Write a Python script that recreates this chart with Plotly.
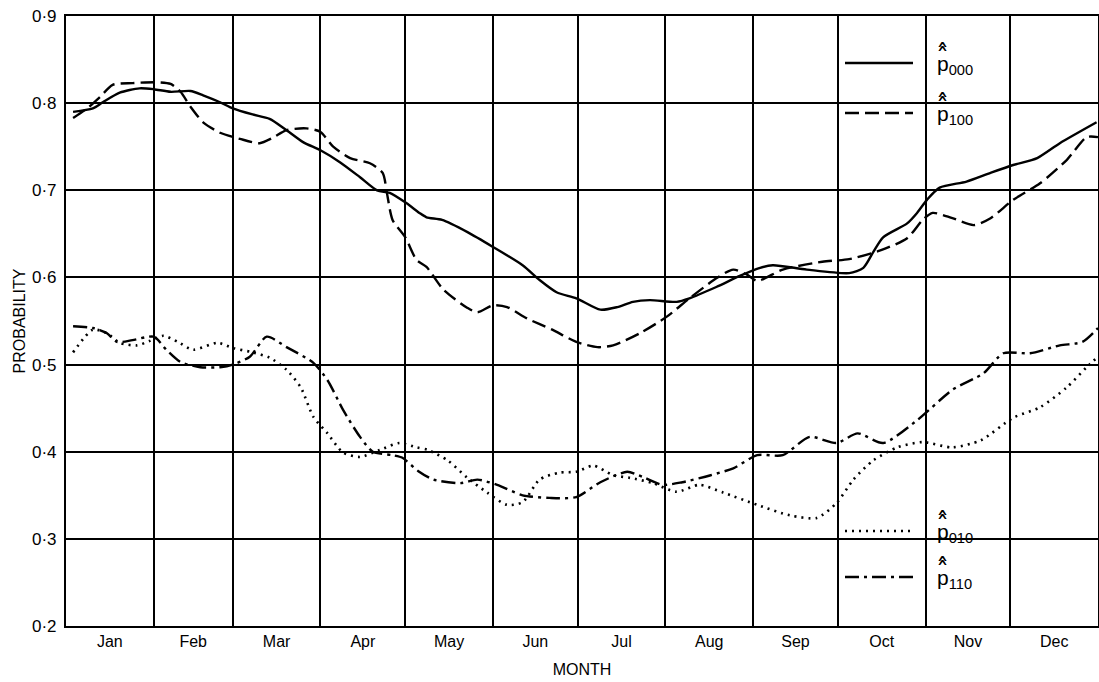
import plotly.graph_objects as go

# ---------------- data ----------------
months = ["Jan", "Feb", "Mar", "Apr", "May", "Jun", "Jul", "Aug", "Sep", "Oct", "Nov", "Dec"]
month_days = [31, 28, 31, 30, 31, 30, 31, 31, 30, 31, 30, 31]

y_ticks = [0.2, 0.3, 0.4, 0.5, 0.6, 0.7, 0.8, 0.9]
y_tick_text = ["0·2", "0·3", "0·4", "0·5", "0·6", "0·7", "0·8", "0·9"]

p000_day = [2.5, 9.5, 13, 19, 26, 31, 37, 44, 48.5, 54.5, 59, 66, 72, 78, 84, 90, 97, 104, 110,
            114.5, 120.5, 125, 127.5, 133, 142, 151, 161.5, 167.5, 173.5, 180.5, 189, 195, 200.5,
            206.5, 216, 220.5, 230, 238.5, 245.5, 250, 262, 277, 282, 285.5, 289, 297.5, 301,
            304.5, 309, 318.5, 327, 335, 343.5, 351.5, 364.5]
p000_val = [0.790, 0.794, 0.801, 0.812, 0.817, 0.816, 0.813, 0.814, 0.809, 0.801, 0.794, 0.787,
            0.782, 0.769, 0.755, 0.746, 0.732, 0.715, 0.700, 0.697, 0.685, 0.674, 0.669, 0.666,
            0.652, 0.635, 0.614, 0.597, 0.583, 0.576, 0.563, 0.566, 0.572, 0.574, 0.572, 0.576,
            0.589, 0.602, 0.611, 0.614, 0.609, 0.605, 0.611, 0.629, 0.646, 0.662, 0.674, 0.689,
            0.703, 0.710, 0.720, 0.729, 0.737, 0.754, 0.778]

p100_day = [2.5, 7.5, 12, 16.5, 23.5, 32, 37, 40.5, 44, 48.5, 54.5, 61.5, 68.5, 73, 78, 85, 90,
            94.5, 100.5, 107.5, 112, 113.5, 115.5, 120, 124, 127.5, 133.5, 142, 145.5, 151, 156,
            163, 172, 180.5, 188, 193.5, 203, 212.5, 220.5, 230, 236, 241, 244.5, 253.5, 267.5,
            277, 288, 297.5, 303, 306.5, 313.5, 321, 327, 335, 344.5, 354, 361, 365]
p100_val = [0.783, 0.794, 0.807, 0.821, 0.823, 0.824, 0.822, 0.813, 0.796, 0.778, 0.766, 0.759,
            0.754, 0.760, 0.769, 0.771, 0.767, 0.750, 0.737, 0.731, 0.720, 0.697, 0.666, 0.646,
            0.620, 0.612, 0.586, 0.565, 0.560, 0.568, 0.566, 0.553, 0.540, 0.526, 0.520, 0.522,
            0.536, 0.555, 0.576, 0.599, 0.609, 0.603, 0.596, 0.609, 0.618, 0.621, 0.631, 0.645,
            0.666, 0.674, 0.668, 0.660, 0.668, 0.689, 0.708, 0.735, 0.761, 0.761]

p010_day = [2.5, 9.5, 14.5, 19, 25, 29.5, 34.5, 39.5, 45, 53.5, 59, 66, 72, 78, 83, 87.5, 92.5,
            98, 104, 111, 118, 124, 128, 135, 142, 149, 156, 161.5, 167.5, 174.5, 180.5, 186.5,
            193.5, 199.5, 207.5, 216, 224, 232.5, 244.5, 256, 265.5, 272.5, 278.5, 285.5, 294,
            303, 313.5, 323.5, 335, 344.5, 354, 361, 365]
p010_val = [0.514, 0.540, 0.536, 0.525, 0.522, 0.527, 0.533, 0.526, 0.517, 0.525, 0.519, 0.514,
            0.508, 0.494, 0.474, 0.440, 0.421, 0.399, 0.394, 0.402, 0.410, 0.405, 0.402, 0.390,
            0.370, 0.353, 0.339, 0.342, 0.368, 0.376, 0.377, 0.384, 0.373, 0.370, 0.364, 0.354,
            0.362, 0.353, 0.339, 0.327, 0.324, 0.341, 0.368, 0.390, 0.405, 0.411, 0.405, 0.413,
            0.439, 0.451, 0.474, 0.497, 0.509]

p110_day = [2.5, 9.5, 14.5, 18, 23.5, 31, 35.5, 40.5, 47.5, 54.5, 59, 65, 71, 78, 87.5, 92.5,
            98, 104, 108.5, 115.5, 119, 124.5, 130, 139.5, 145.5, 152.5, 161.5, 171, 180.5, 189,
            198.5, 204, 211, 218, 228, 236, 244.5, 253.5, 263, 272.5, 280, 289, 301, 313.5,
            324.5, 331.5, 341, 351.5, 359.5, 365]
p110_val = [0.544, 0.542, 0.536, 0.526, 0.528, 0.532, 0.517, 0.503, 0.497, 0.497, 0.500, 0.509,
            0.532, 0.520, 0.502, 0.482, 0.448, 0.417, 0.400, 0.396, 0.393, 0.378, 0.368, 0.364,
            0.368, 0.362, 0.350, 0.347, 0.348, 0.365, 0.377, 0.371, 0.362, 0.365, 0.373, 0.381,
            0.396, 0.396, 0.417, 0.410, 0.421, 0.410, 0.436, 0.471, 0.490, 0.513, 0.513, 0.522,
            0.526, 0.542]

legend_subs = ["000", "100", "010", "110"]

# ---------------- derived positions ----------------
bounds = []
acc = 0
for d in month_days[:-1]:
    acc += d
    bounds.append(acc)
mids = []
acc = 0
for d in month_days:
    mids.append(acc + d / 2)
    acc += d

W, H = 1099, 682
L, R, T, B = 66, 1098, 16, 626


def px(x):
    return (x - L) / (R - L)


def py(y):
    return (B - y) / (B - T)


styles = [
    dict(color="black", width=2.4, dash="solid"),
    dict(color="black", width=2.4, dash="14px,6px"),
    dict(color="black", width=2.6, dash="2px,5px"),
    dict(color="black", width=2.4, dash="14px,5px,3px,5px"),
]

fig = go.Figure()
series = [(p000_day, p000_val), (p100_day, p100_val), (p010_day, p010_val), (p110_day, p110_val)]
for (xd, yv), st in zip(series, styles):
    fig.add_trace(go.Scatter(x=xd, y=yv, mode="lines", line=dict(shape="spline", smoothing=0.7, **st),
                             showlegend=False, hoverinfo="skip"))

shapes = []
# white boxes behind the legend keys (over gridlines, under curves)
for (x0, y0, x1, y1) in [(843, 18, 980, 127), (843, 505, 983, 590)]:
    shapes.append(dict(type="rect", xref="paper", yref="paper", x0=px(x0), x1=px(x1),
                       y0=py(y1), y1=py(y0), fillcolor="white", line=dict(width=0), layer="between"))

key_y = [63, 113, 531, 577]
annotations = []
for st, ky, sub in zip(styles, key_y, legend_subs):
    shapes.append(dict(type="line", xref="paper", yref="paper", x0=px(845), x1=px(913),
                       y0=py(ky), y1=py(ky), line=st, layer="above"))
    annotations.append(dict(xref="paper", yref="paper", x=px(935), y=py(ky + 2),
                            text="p<sub>" + sub + "</sub>",
                            showarrow=False, xanchor="left", yanchor="middle",
                            font=dict(family="Liberation Sans, Arial", size=21, color="black")))
    # the double hat over the p
    for dy in (-4, -8):
        annotations.append(dict(xref="paper", yref="paper", x=px(942), y=py(ky + dy),
                                text="ˆ", showarrow=False, xanchor="center", yanchor="middle",
                                font=dict(family="DejaVu Sans", size=26, color="black")))

fig.update_layout(
    width=W, height=H,
    margin=dict(l=L, r=W - R, t=T, b=H - B, pad=0),
    paper_bgcolor="white", plot_bgcolor="white",
    font=dict(family="Liberation Sans, Arial, sans-serif", color="black", size=16),
    shapes=shapes, annotations=annotations,
    xaxis=dict(range=[0, 365], tickmode="array", tickvals=mids, ticktext=months,
               showgrid=False, zeroline=False, ticks="", automargin=False,
               showline=True, linecolor="black", linewidth=2.2, mirror=True,
               minor=dict(tickmode="array", tickvals=bounds, showgrid=True,
                          gridcolor="black", gridwidth=1.5, ticks=""),
               tickfont=dict(size=16), ticklabelstandoff=0,
               title=dict(text="MONTH", font=dict(size=16), standoff=15)),
    yaxis=dict(range=[0.2, 0.9], tickmode="array", tickvals=y_ticks, ticktext=y_tick_text,
               showgrid=True, gridcolor="black", gridwidth=1.5, zeroline=False, ticks="",
               automargin=False,
               showline=True, linecolor="black", linewidth=2.2, mirror=True,
               tickfont=dict(size=17), ticklabelstandoff=4,
               title=dict(text="PROBABILITY", font=dict(size=16), standoff=2)),
)

fig.write_html("out.html", config={"displayModeBar": False})

# remove the default page margin so the figure sits at the window origin
with open("out.html", "r", encoding="utf-8") as f:
    html = f.read()
html = html.replace("<head>", "<head><style>html,body{margin:0;padding:0;overflow:hidden}</style>", 1)
with open("out.html", "w", encoding="utf-8") as f:
    f.write(html)
